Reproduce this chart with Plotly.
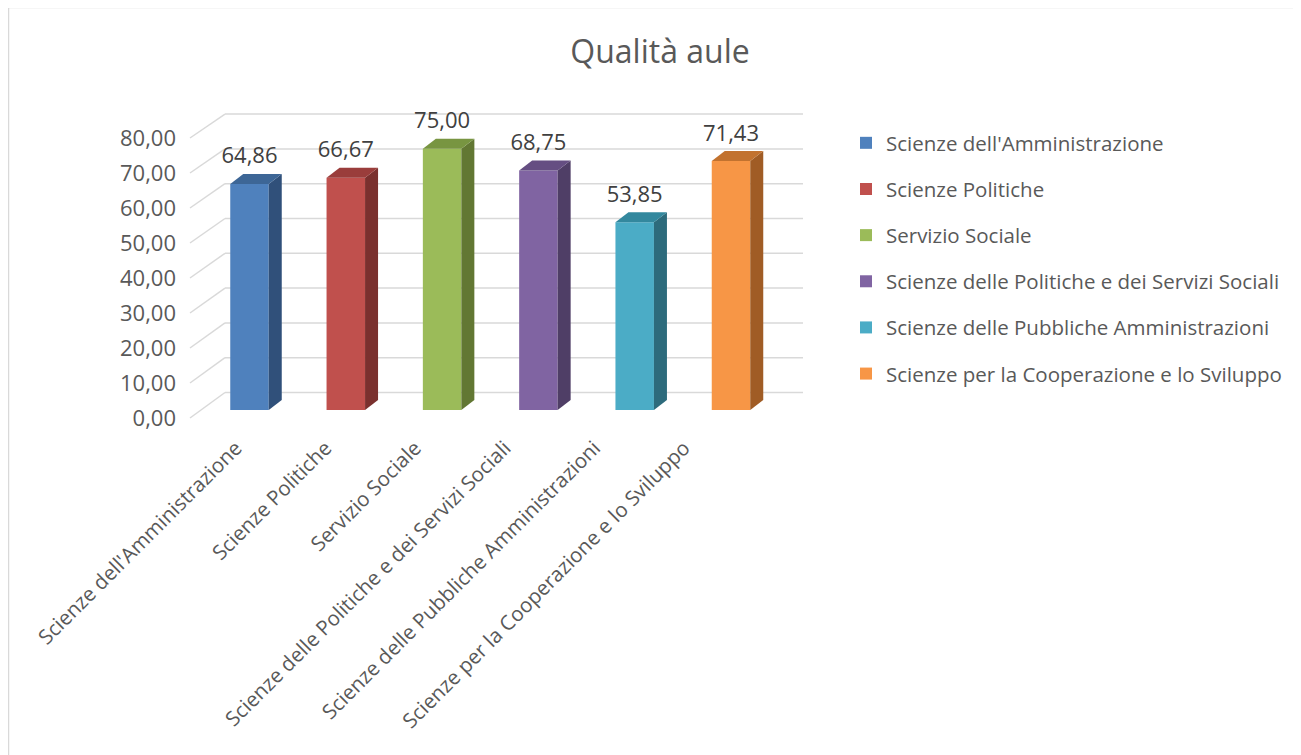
import plotly.graph_objects as go

# ---------------- data ----------------
categories = [
    "Scienze dell'Amministrazione",
    "Scienze Politiche",
    "Servizio Sociale",
    "Scienze delle Politiche e dei Servizi Sociali",
    "Scienze delle Pubbliche Amministrazioni",
    "Scienze per la Cooperazione e lo Sviluppo",
]
values = [64.86, 66.67, 75.00, 68.75, 53.85, 71.43]
tick_values = [0, 10, 20, 30, 40, 50, 60, 70, 80]
title_text = "Qualità aule"

# ---------------- styles ----------------
front_colors = ["#4f81bd", "#c0504d", "#9bbb59", "#8064a2", "#4bacc6", "#f79646"]
top_colors = ["#3d6696", "#9a3d3b", "#789541", "#654e82", "#33889e", "#c2722f"]
side_colors = ["#30507a", "#7a302e", "#627733", "#4f3e66", "#2d6b7c", "#a05c25"]
TXT = "#595959"
LBL = "#404040"
GRID = "#d9d9d9"
FONT = "Open Sans"

OFF = 8  # page body margin
W, H = 1301 - OFF, 755 - OFF
# page-pixel geometry, converted to figure pixels
L = 183 - OFF
T = 100 - OFF
PLOT_RIGHT = 820 - OFF
PLOT_BOTTOM = 440 - OFF
R = W - PLOT_RIGHT
B = H - PLOT_BOTTOM
PX_X = 96.3     # pixels per category step
PX_Y = 3.485    # pixels per value unit
X0_PX = 249.5 - OFF   # first category centre
BASE_PX = 410 - OFF   # value 0 on bar front
plot_w = PLOT_RIGHT - L
plot_h = PLOT_BOTTOM - T
x_range = [(L - X0_PX) / PX_X, (PLOT_RIGHT - X0_PX) / PX_X]
y_range = [(BASE_PX - PLOT_BOTTOM) / PX_Y, (BASE_PX - T) / PX_Y]


def xpx(p):
    return (p - OFF - X0_PX) / PX_X


bar_w = 38.5 / PX_X
dx = 13 / PX_X
dy = 10 / PX_Y
grid_front_x = xpx(190)
grid_back_x0 = xpx(225)
grid_back_x1 = xpx(803)
front_off = (410 - 418) / PX_Y
front_scale = 3.5 / PX_Y
back_off = (410 - 392.5) / PX_Y
back_scale = 3.48 / PX_Y
label_off = 26 / PX_Y
# category labels sit on the (perspective-narrowed) front edge
LABEL_X0_PX = 246
LABEL_STEP_PX = 89.6

xs = list(range(len(categories)))
label_pos = [xpx(LABEL_X0_PX + LABEL_STEP_PX * i) for i in xs]

fig = go.Figure()

# bars (front faces)
for i, (c, v) in enumerate(zip(categories, values)):
    fig.add_trace(go.Bar(
        x=[xs[i]], y=[v], width=bar_w, name=c,
        marker=dict(color=front_colors[i], line=dict(width=0)),
        legendgroup=c, hoverinfo="skip",
    ))

# side and top faces
for i, v in enumerate(values):
    xc = xs[i]
    xr = xc + bar_w / 2
    xl = xc - bar_w / 2
    fig.add_trace(go.Scatter(
        x=[xr, xr + dx, xr + dx, xr, xr], y=[0, dy, v + dy, v, 0],
        fill="toself", fillcolor=side_colors[i], mode="lines",
        line=dict(width=0, color=side_colors[i]), showlegend=False, hoverinfo="skip",
    ))
    fig.add_trace(go.Scatter(
        x=[xl, xr, xr + dx, xl + dx, xl], y=[v, v, v + dy, v + dy, v],
        fill="toself", fillcolor=top_colors[i], mode="lines",
        line=dict(width=0, color=top_colors[i]), showlegend=False, hoverinfo="skip",
    ))

# data labels
fig.add_trace(go.Scatter(
    x=xs, y=[v + label_off for v in values],
    text=[f"{v:.2f}".replace(".", ",") for v in values],
    mode="text", textposition="middle center",
    textfont=dict(family=FONT, size=22, color=LBL),
    showlegend=False, hoverinfo="skip",
))

# gridlines (back wall + floor diagonals)
shapes = []
for t in tick_values:
    yb = back_off + back_scale * t
    yf = front_off + front_scale * t
    shapes.append(dict(type="line", xref="x", yref="y", layer="below",
                       x0=grid_back_x0, x1=grid_back_x1, y0=yb, y1=yb,
                       line=dict(color=GRID, width=1.5)))
    shapes.append(dict(type="line", xref="x", yref="y", layer="below",
                       x0=grid_front_x, x1=grid_back_x0, y0=yf, y1=yb,
                       line=dict(color=GRID, width=1.5)))
# chart border (left and top edges visible)
shapes.append(dict(type="rect", xref="paper", yref="paper", layer="below",
                   x0=(8.5 - OFF - L) / plot_w, x1=(1330 - L) / plot_w,
                   y0=(PLOT_BOTTOM - 790) / plot_h, y1=(PLOT_BOTTOM - (7.5 - OFF)) / plot_h,
                   line=dict(color=GRID, width=1.5)))

fig.update_layout(
    width=W, height=H,
    margin=dict(l=L, r=R, t=T, b=B, autoexpand=False),
    paper_bgcolor="white", plot_bgcolor="rgba(0,0,0,0)",
    barmode="overlay",
    shapes=shapes,
    title=dict(text=title_text, x=(660 - OFF) / W, xanchor="center",
               y=1 - (52 - OFF) / H, yanchor="middle",
               font=dict(family=FONT, size=32, color=TXT)),
    xaxis=dict(range=x_range, tickvals=label_pos, ticktext=categories, tickangle=-45,
               showgrid=False, zeroline=False, showline=False, ticks="",
               ticklabelshift=-10, ticklabelstandoff=-9,
               tickfont=dict(family=FONT, size=20.5, color=TXT)),
    yaxis=dict(range=y_range,
               tickvals=[front_off + front_scale * t for t in tick_values],
               ticktext=[f"{t:.2f}".replace(".", ",") for t in tick_values],
               showgrid=False, zeroline=False, showline=False, ticks="",
               ticklabelstandoff=6,
               tickfont=dict(family=FONT, size=22, color=TXT)),
    legend=dict(xref="container", yref="container", x=(846 - OFF) / W, y=1 - (123 - OFF) / H,
                xanchor="left", yanchor="top",
                font=dict(family=FONT, size=20.5, color=TXT),
                tracegroupgap=16.5, itemwidth=30, bgcolor="rgba(0,0,0,0)"),
    showlegend=True,
)

fig.write_html("out.html")
